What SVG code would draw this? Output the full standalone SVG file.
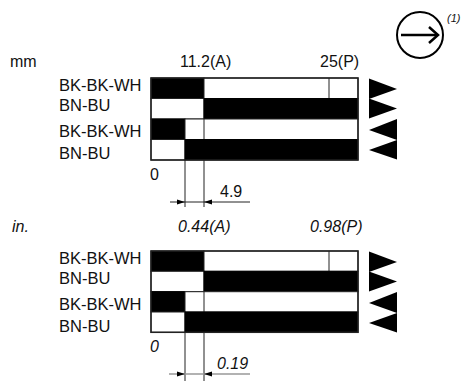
<svg xmlns="http://www.w3.org/2000/svg" width="469" height="383" viewBox="0 0 469 383">
<style>
.t{font-family:"Liberation Sans",Arial,sans-serif;font-size:16px;fill:#111}
.i{font-style:italic}
.lb{font-size:16.5px}
.k{fill:#000;stroke:#000;stroke-width:1}
.w{fill:#fff;stroke:#222;stroke-width:1}
.ln{stroke:#222;stroke-width:1;fill:none}
.tri{fill:#000}
</style>
<rect width="469" height="383" fill="#fff"/>
<g id="direction">
<circle cx="420" cy="35" r="23" fill="none" stroke="#000" stroke-width="2"/>
<line x1="401" y1="35" x2="437" y2="35" stroke="#000" stroke-width="2.5"/>
<polyline points="429,27 438,35 429,43" fill="none" stroke="#000" stroke-width="2.5"/>
<text x="447" y="22" class="t i" style="font-size:11px">(1)</text>
</g>
<g id="mm-section">
<text x="10" y="67" class="t">mm</text>
<text x="180" y="67" class="t">11.2(A)</text>
<text x="320" y="67" class="t">25(P)</text>
<g id="mm-row1"><text x="59" y="91" class="t lb">BK-BK-WH</text><rect x="151" y="78" width="53" height="20.5" class="k"/><rect x="204" y="78" width="154" height="20.5" class="w"/><line x1="329" y1="78" x2="329" y2="98.5" class="ln"/><polygon points="369,78.5 397,89 369,99" class="tri"/></g>
<g id="mm-row2"><text x="59" y="111" class="t lb">BN-BU</text><rect x="151" y="98.5" width="53" height="20.5" class="w"/><rect x="204" y="98.5" width="154" height="20.5" class="k"/><polygon points="369,98.5 397,108.5 369,118.5" class="tri"/></g>
<g id="mm-row3"><text x="59" y="137" class="t lb">BK-BK-WH</text><rect x="151" y="119" width="34" height="20.5" class="k"/><rect x="185" y="119" width="173" height="20.5" class="w"/><line x1="204" y1="119" x2="204" y2="139.5" class="ln"/><polygon points="397,119 369,130 397,140" class="tri"/></g>
<g id="mm-row4"><text x="59" y="159" class="t lb">BN-BU</text><rect x="151" y="139.5" width="34" height="20.5" class="w"/><rect x="185" y="139.5" width="173" height="20.5" class="k"/><polygon points="397,140 369,150 397,159.5" class="tri"/></g>
<rect x="151" y="78" width="207" height="82" fill="none" stroke="#222" stroke-width="1.5"/>
<text x="150" y="180" class="t">0</text>
<text x="220" y="197" class="t">4.9</text>
</g>
<g id="in-section">
<text x="12" y="232" class="t i">in.</text>
<text x="178" y="232" class="t i">0.44(A)</text>
<text x="310" y="232" class="t i">0.98(P)</text>
<g id="in-row1"><text x="59" y="264" class="t lb">BK-BK-WH</text><rect x="151" y="251" width="53" height="20.3" class="k"/><rect x="204" y="251" width="154" height="20.3" class="w"/><line x1="329" y1="251" x2="329" y2="271.3" class="ln"/><polygon points="369,251.5 397,262 369,272" class="tri"/></g>
<g id="in-row2"><text x="59" y="284" class="t lb">BN-BU</text><rect x="151" y="271.3" width="53" height="20.4" class="w"/><rect x="204" y="271.3" width="154" height="20.4" class="k"/><polygon points="369,271.5 397,281.5 369,291.5" class="tri"/></g>
<g id="in-row3"><text x="59" y="310" class="t lb">BK-BK-WH</text><rect x="151" y="291.7" width="34" height="20.3" class="k"/><rect x="185" y="291.7" width="173" height="20.3" class="w"/><line x1="204" y1="291.7" x2="204" y2="312" class="ln"/><polygon points="397,292 369,303 397,313" class="tri"/></g>
<g id="in-row4"><text x="59" y="332" class="t lb">BN-BU</text><rect x="151" y="312" width="34" height="20.3" class="w"/><rect x="185" y="312" width="173" height="20.3" class="k"/><polygon points="397,313 369,323 397,332.5" class="tri"/></g>
<rect x="151" y="251" width="207" height="81.3" fill="none" stroke="#222" stroke-width="1.5"/>
<text x="150" y="352" class="t i">0</text>
<text x="217" y="369" class="t i">0.19</text>
</g>
<g id="connectors">
<line x1="185" y1="160" x2="185" y2="207" class="ln"/>
<line x1="204" y1="160" x2="204" y2="207" class="ln"/>
<line x1="170" y1="202" x2="250" y2="202" class="ln"/>
<polygon points="177,199.5 185,202 177,204.5" class="tri"/>
<polygon points="212,199.5 204,202 212,204.5" class="tri"/>
<line x1="185" y1="332" x2="185" y2="381" class="ln"/>
<line x1="204" y1="332" x2="204" y2="381" class="ln"/>
<line x1="169" y1="374" x2="250" y2="374" stroke="#999" stroke-width="1.5"/>
<polygon points="177,371.5 185,374 177,376.5" class="tri"/>
<polygon points="212,371.5 204,374 212,376.5" class="tri"/>
</g>
</svg>
